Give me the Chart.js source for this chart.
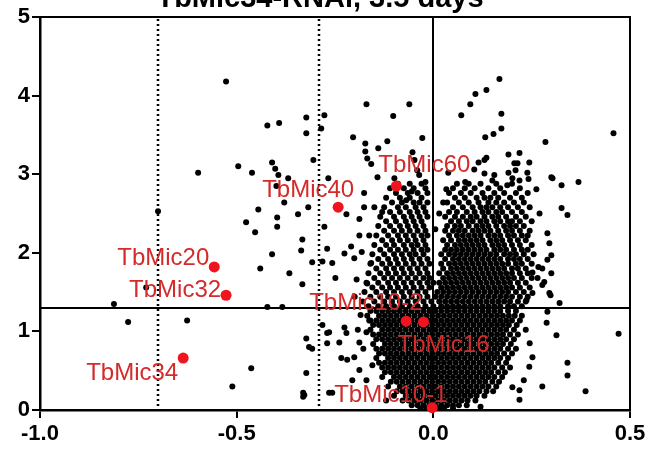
<!DOCTYPE html>
<html lang="en">
<head>
    <meta charset="UTF-8">
    <title>TbMic34-RNAi volcano plot</title>
    <script src="https://cdn.jsdelivr.net/npm/chart.js@4.4.1/dist/chart.umd.min.js"></script>
    <style>
        body { margin: 0; background: #fff; }
        #volcano { display: block; }
    </style>
</head>
<body>
    <canvas id="volcano" width="654" height="452"></canvas>

    <script>
        // ---- data (log2 fold change, -log10 p) ----
        const chartTitle = 'TbMic34-RNAi, 3.5 days';
        const xTicks = [-1.0, -0.5, 0.0, 0.5];
        const yTicks = [0, 1, 2, 3, 4, 5];
        const pCutoff = 1.3;           // horizontal line
        const fcCutoffs = [-0.7, -0.29]; // dotted lines

        // highlighted TbMic proteins
        const micNames = ['TbMic60', 'TbMic40', 'TbMic20', 'TbMic32', 'TbMic10-2', 'TbMic16', 'TbMic34', 'TbMic10-1'];
        const micFC = [-0.094, -0.242, -0.557, -0.527, -0.069, -0.025, -0.636, -0.003];
        const micP = [2.85, 2.58, 1.82, 1.46, 1.13, 1.12, 0.66, 0.03];

        // scattered proteins outside the main cloud
        const otherGenes = [
            [-0.527,4.18],[-0.598,3.02],[-0.496,3.10],[-0.461,3.02],[-0.422,3.62],[-0.392,3.65],[-0.323,3.72],[-0.323,3.52],
            [-0.277,3.75],[-0.285,3.58],[-0.305,3.18],[-0.410,3.15],[-0.402,3.07],[-0.394,2.99],[-0.369,2.95],[-0.399,2.85],
            [-0.379,2.64],[-0.445,2.55],[-0.344,2.49],[-0.318,2.58],[-0.476,2.39],[-0.453,2.26],[-0.397,2.45],[-0.397,2.33],
            [-0.333,2.17],[-0.336,2.03],[-0.410,1.98],[-0.440,1.80],[-0.366,1.74],[-0.308,1.88],[-0.333,1.60],[-0.277,2.33],
            [-0.270,2.05],[-0.700,2.53],[-0.730,1.56],[-0.812,1.35],[-0.776,1.12],[-0.626,1.14],[-0.422,1.31],[-0.384,1.31],
            [-0.323,0.91],[-0.316,0.80],[-0.308,0.78],[-0.323,0.47],[-0.463,0.53],[-0.511,0.30],[-0.331,0.22],[-0.331,0.17],
            [-0.270,0.98],[-0.270,0.85],[-0.282,1.08],[-0.265,0.22],
            [-0.170,3.89],[-0.061,3.89],[-0.102,3.74],[-0.204,3.47],[-0.117,3.42],[-0.028,3.46],[-0.173,3.39],[-0.173,3.29],
            [-0.168,3.20],[-0.158,3.13],[-0.142,2.96],[-0.267,2.95],[-0.140,3.33],[-0.053,3.28],[-0.048,3.18],[-0.041,3.05],
            [-0.036,2.99],[-0.099,2.95],[-0.069,2.67],[-0.221,2.49],[-0.176,2.76],[-0.176,2.58],[-0.150,2.58],[-0.188,2.43],
            [-0.209,2.08],[-0.226,1.99],[-0.257,1.87],[-0.201,1.93],[-0.188,2.22],[-0.163,2.22],[-0.158,1.87],[-0.168,1.61],
            [-0.249,1.68],[-0.282,1.89],
            [-0.257,0.22],[-0.234,0.66],[-0.219,0.64],[-0.201,0.67],[-0.265,0.99],[-0.226,1.05],[-0.221,0.98],[-0.239,0.86],
            [-0.188,0.86],[-0.170,0.99],[-0.163,1.14],[-0.155,0.57],[-0.188,0.51],[-0.206,0.38],[-0.170,0.38],[-0.328,0.19],
            [0.071,3.75],[0.094,3.89],[0.107,4.02],[0.135,4.07],[0.168,4.21],[0.173,3.77],[0.173,3.58],[0.153,3.51],
            [0.132,3.47],[0.458,3.52],[0.285,3.41],[0.191,3.25],[0.219,3.27],[0.206,3.14],[0.244,3.15],[0.300,2.96],
            [0.326,2.86],[0.369,2.90],[0.326,2.57],[0.341,2.48],[0.262,2.81],[0.135,3.21],[0.115,3.15],[0.104,3.06],
            [0.081,2.90],[0.033,2.81],[0.038,3.02],[0.025,2.64],[0.015,2.50],[0.130,3.18],[0.214,3.14],[0.209,3.05],
            [0.239,3.02],[0.191,3.02],[0.155,2.99],[0.130,3.01],[0.150,2.92],[0.201,2.95],[0.219,2.92],[0.242,2.94],
            [0.303,2.95],[0.188,2.86],
            [0.270,2.50],[0.290,2.25],[0.295,2.12],[0.300,1.97],[0.290,1.91],[0.267,1.82],[0.300,1.74],[0.282,1.63],
            [0.295,1.49],[0.252,1.75],[0.277,1.80],[0.265,1.68],[0.277,1.59],[0.298,1.46],[0.321,1.36],[0.252,1.49],
            [0.237,1.40],
            [0.471,0.97],[0.341,0.60],[0.341,0.44],[0.387,0.24],[0.277,0.30],[0.313,0.95],[0.288,1.11],[0.290,1.25],
            [0.219,0.25],[0.219,0.13],[0.252,0.67],[0.244,0.55],[0.201,0.29],
            [-0.185,1.21],[-0.192,1.02],[-0.178,0.78],[-0.2,1.44],[-0.195,1.66],[-0.182,2.01],[-0.13,2.52],[-0.055,2.78],
            [-0.02,2.9],[0.005,2.3],[0.0,1.62],[0.245,0.85],[0.235,1.02],[0.23,0.38],[-0.12,0.12],[0.12,0.04]
        ];

        // upper cloud, read row by row: [-log10 p, [fold changes]]
        const upperRows = [
            [2.88, [-0.09,-0.06,-0.03, 0.06,0.09,0.12,0.16,0.2]],
            [2.82, [-0.11,-0.075,-0.05,-0.02, 0.05,0.08,0.105,0.14,0.17,0.22]],
            [2.76, [-0.095,-0.065,-0.04,-0.015, 0.04,0.07,0.095,0.125,0.155,0.18,0.21,0.24]],
            [2.70, [-0.12,-0.085,-0.06,-0.03, 0.055,0.08,0.11,0.13,0.145,0.165,0.195,0.225]],
            [2.64, [-0.105,-0.08,-0.05,-0.035,-0.015, 0.035,0.065,0.09,0.115,0.14,0.16,0.18,0.205,0.23]],
            [2.58, [-0.125,-0.09,-0.07,-0.045,-0.025, 0.05,0.075,0.1,0.12,0.135,0.15,0.17,0.19,0.215,0.245]],
            [2.52, [-0.11,-0.085,-0.06,-0.04,-0.02, 0.04,0.06,0.085,0.105,0.125,0.14,0.16,0.175,0.2,0.225]],
            [2.46, [-0.135,-0.1,-0.075,-0.055,-0.035,-0.015, 0.03,0.055,0.075,0.095,0.11,0.13,0.15,0.165,0.185,0.21,0.235]],
            [2.40, [-0.12,-0.095,-0.07,-0.05,-0.03, 0.045,0.065,0.085,0.1,0.12,0.135,0.155,0.17,0.19,0.2,0.22,0.25]],
            [2.34, [-0.14,-0.11,-0.085,-0.065,-0.045,-0.025, 0.035,0.055,0.07,0.09,0.11,0.125,0.14,0.16,0.18,0.195,0.21,0.23]],
            [2.28, [-0.125,-0.1,-0.08,-0.06,-0.04,-0.02, 0.03,0.05,0.065,0.08,0.1,0.115,0.13,0.145,0.165,0.185,0.2,0.22,0.245]],
            [2.22, [-0.145,-0.115,-0.09,-0.07,-0.05,-0.03,-0.015, 0.04,0.06,0.075,0.09,0.105,0.12,0.14,0.155,0.17,0.19,0.205,0.225,0.24]],
            [2.16, [-0.13,-0.105,-0.085,-0.065,-0.045,-0.025, 0.025,0.045,0.065,0.08,0.095,0.11,0.125,0.145,0.16,0.175,0.195,0.215,0.235]],
            [2.10, [-0.15,-0.12,-0.1,-0.075,-0.055,-0.04,-0.02, 0.035,0.055,0.07,0.085,0.1,0.115,0.13,0.15,0.165,0.18,0.2,0.22,0.25]],
            [2.04, [-0.135,-0.11,-0.09,-0.07,-0.05,-0.03,-0.015, 0.03,0.045,0.06,0.075,0.09,0.105,0.12,0.135,0.155,0.17,0.185,0.205,0.225,0.24]],
            [1.98, [-0.155,-0.125,-0.1,-0.08,-0.06,-0.045,-0.025, 0.02,0.04,0.055,0.07,0.085,0.1,0.115,0.13,0.145,0.16,0.18,0.195,0.21,0.23,0.255]],
            [1.92, [-0.14,-0.115,-0.095,-0.075,-0.055,-0.035,-0.015, 0.03,0.05,0.065,0.08,0.095,0.11,0.125,0.14,0.155,0.17,0.19,0.205,0.22,0.24]],
            [1.86, [-0.16,-0.13,-0.11,-0.09,-0.07,-0.05,-0.03,-0.01, 0.02,0.04,0.055,0.07,0.085,0.1,0.115,0.13,0.145,0.16,0.175,0.19,0.21,0.225,0.25]],
            [1.80, [-0.145,-0.12,-0.1,-0.08,-0.06,-0.04,-0.02, 0.025,0.045,0.06,0.075,0.09,0.105,0.12,0.135,0.15,0.165,0.18,0.2,0.215,0.235]],
            [1.74, [-0.165,-0.135,-0.115,-0.095,-0.075,-0.055,-0.035,-0.015, 0.015,0.035,0.05,0.065,0.08,0.095,0.11,0.125,0.14,0.155,0.17,0.185,0.2,0.22,0.24]],
            [1.68, [-0.15,-0.125,-0.105,-0.085,-0.065,-0.045,-0.025,-0.01, 0.025,0.04,0.055,0.07,0.085,0.1,0.115,0.13,0.145,0.16,0.175,0.19,0.205,0.225,0.25]],
            [1.62, [-0.17,-0.14,-0.115,-0.095,-0.075,-0.055,-0.035,-0.015, 0.015,0.03,0.045,0.06,0.075,0.09,0.105,0.12,0.135,0.15,0.165,0.18,0.195,0.215,0.235]],
            [1.56, [-0.155,-0.13,-0.11,-0.09,-0.07,-0.05,-0.03,-0.01, 0.02,0.035,0.05,0.065,0.08,0.095,0.11,0.125,0.14,0.155,0.17,0.185,0.2,0.22,0.245]],
            [1.50, [-0.175,-0.145,-0.12,-0.1,-0.08,-0.06,-0.04,-0.02, 0.01,0.025,0.04,0.055,0.07,0.085,0.1,0.115,0.13,0.145,0.16,0.175,0.19,0.21,0.23]],
            [1.44, [-0.16,-0.135,-0.115,-0.095,-0.075,-0.055,-0.035,-0.015, 0.005,0.02,0.035,0.05,0.065,0.08,0.095,0.11,0.125,0.14,0.155,0.17,0.185,0.2,0.22,0.24]],
            [1.38, [-0.18,-0.15,-0.125,-0.105,-0.085,-0.065,-0.045,-0.025,-0.005, 0.015,0.03,0.045,0.06,0.075,0.09,0.105,0.12,0.135,0.15,0.165,0.18,0.195,0.215,0.235]],
            [1.32, [-0.165,-0.14,-0.12,-0.1,-0.08,-0.06,-0.04,-0.02, 0.0,0.02,0.035,0.05,0.065,0.08,0.095,0.11,0.125,0.14,0.155,0.17,0.19,0.205,0.225]]
        ];

        // lower cloud (non-significant), read row by row
        const lowerRows = [
            [1.26, [-0.16,-0.145,-0.13,-0.115,-0.1,-0.085,-0.07,-0.055,-0.04,-0.025,-0.01,0.005,0.02,0.035,0.05,0.065,0.08,0.095,0.11,0.125,0.14,0.155,0.17,0.19,0.21]],
            [1.20, [-0.168,-0.138,-0.123,-0.108,-0.093,-0.078,-0.063,-0.048,-0.033,-0.018,-0.003,0.012,0.027,0.042,0.057,0.072,0.087,0.102,0.117,0.132,0.147,0.162,0.177,0.192,0.207,0.225]],
            [1.14, [-0.16,-0.145,-0.13,-0.115,-0.1,-0.085,-0.07,-0.055,-0.04,-0.025,-0.01,0.005,0.02,0.035,0.05,0.065,0.08,0.095,0.11,0.125,0.14,0.155,0.17,0.185,0.2,0.22]],
            [1.08, [-0.153,-0.138,-0.123,-0.108,-0.093,-0.078,-0.063,-0.048,-0.033,-0.018,-0.003,0.012,0.027,0.042,0.057,0.072,0.087,0.102,0.117,0.132,0.147,0.162,0.177,0.192,0.212]],
            [1.02, [-0.16,-0.13,-0.115,-0.1,-0.085,-0.07,-0.055,-0.04,-0.025,-0.01,0.005,0.02,0.035,0.05,0.065,0.08,0.095,0.11,0.125,0.14,0.155,0.17,0.185,0.205]],
            [0.96, [-0.153,-0.138,-0.123,-0.108,-0.093,-0.078,-0.063,-0.048,-0.033,-0.018,-0.003,0.012,0.027,0.042,0.057,0.072,0.087,0.102,0.117,0.132,0.147,0.162,0.177,0.195,0.215]],
            [0.90, [-0.145,-0.13,-0.115,-0.1,-0.085,-0.07,-0.055,-0.04,-0.025,-0.01,0.005,0.02,0.035,0.05,0.065,0.08,0.095,0.11,0.125,0.14,0.155,0.17,0.185,0.205]],
            [0.84, [-0.153,-0.123,-0.108,-0.093,-0.078,-0.063,-0.048,-0.033,-0.018,-0.003,0.012,0.027,0.042,0.057,0.072,0.087,0.102,0.117,0.132,0.147,0.162,0.177,0.197]],
            [0.78, [-0.145,-0.13,-0.115,-0.1,-0.085,-0.07,-0.055,-0.04,-0.025,-0.01,0.005,0.02,0.035,0.05,0.065,0.08,0.095,0.11,0.125,0.14,0.155,0.17,0.19,0.21]],
            [0.72, [-0.138,-0.123,-0.108,-0.093,-0.078,-0.063,-0.048,-0.033,-0.018,-0.003,0.012,0.027,0.042,0.057,0.072,0.087,0.102,0.117,0.132,0.147,0.162,0.18,0.2]],
            [0.66, [-0.145,-0.115,-0.1,-0.085,-0.07,-0.055,-0.04,-0.025,-0.01,0.005,0.02,0.035,0.05,0.065,0.08,0.095,0.11,0.125,0.14,0.155,0.17,0.19]],
            [0.60, [-0.138,-0.123,-0.108,-0.093,-0.078,-0.063,-0.048,-0.033,-0.018,-0.003,0.012,0.027,0.042,0.057,0.072,0.087,0.102,0.117,0.132,0.147,0.165,0.185]],
            [0.54, [-0.13,-0.115,-0.1,-0.085,-0.07,-0.055,-0.04,-0.025,-0.01,0.005,0.02,0.035,0.05,0.065,0.08,0.095,0.11,0.125,0.14,0.155,0.175,0.195]],
            [0.48, [-0.123,-0.108,-0.093,-0.078,-0.063,-0.048,-0.033,-0.018,-0.003,0.012,0.027,0.042,0.057,0.072,0.087,0.102,0.117,0.132,0.147,0.165,0.182]],
            [0.42, [-0.13,-0.1,-0.085,-0.07,-0.055,-0.04,-0.025,-0.01,0.005,0.02,0.035,0.05,0.065,0.08,0.095,0.11,0.125,0.14,0.155,0.175]],
            [0.36, [-0.108,-0.093,-0.078,-0.063,-0.048,-0.033,-0.018,-0.003,0.012,0.027,0.042,0.057,0.072,0.087,0.102,0.117,0.132,0.15,0.167]],
            [0.30, [-0.115,-0.085,-0.07,-0.055,-0.04,-0.025,-0.01,0.005,0.02,0.035,0.05,0.065,0.08,0.095,0.11,0.125,0.14,0.16]],
            [0.24, [-0.093,-0.078,-0.063,-0.048,-0.033,-0.018,-0.003,0.012,0.027,0.042,0.057,0.072,0.087,0.102,0.117,0.135,0.152]],
            [0.18, [-0.1,-0.07,-0.055,-0.04,-0.025,-0.01,0.005,0.02,0.035,0.05,0.065,0.08,0.095,0.11,0.13]],
            [0.12, [-0.078,-0.063,-0.048,-0.033,-0.018,-0.003,0.012,0.027,0.042,0.057,0.072,0.087,0.107]],
            [0.06, [-0.055,-0.04,-0.025,-0.01,0.005,0.02,0.035,0.05,0.065,0.085]],
            [0.02, [-0.033,-0.018,-0.003,0.012,0.027,0.05]]
        ];

        // ---- build datasets ----
        const rowsToPoints = rows => rows.flatMap(([p, fcs]) => fcs.map(fc => ({ x: fc, y: p })));
        const cloudPoints = otherGenes.map(([fc, p]) => ({ x: fc, y: p }))
            .concat(rowsToPoints(upperRows), rowsToPoints(lowerRows));
        const micPoints = micNames.map((name, i) => ({ x: micFC[i], y: micP[i], name: name }));

        // where each red label sits relative to its dot (px: left edge, baseline)
        const labelOffset = {
            'TbMic60': [-18, -14], 'TbMic40': [-76, -10], 'TbMic20': [-97, -2], 'TbMic32': [-97, 2],
            'TbMic10-2': [-97, -11], 'TbMic16': [-26, 30], 'TbMic34': [-97, 22], 'TbMic10-1': [-98, -6]
        };

        const fontFamily = '"Liberation Sans", Arial, sans-serif';

        const volcanoDecor = {
            id: 'volcanoDecor',
            beforeDatasetsDraw(chart) {
                const { ctx, chartArea: a, scales: { x, y } } = chart;
                ctx.save();
                ctx.strokeStyle = '#000';
                ctx.lineWidth = 2;
                // significance line
                const yp = Math.round(y.getPixelForValue(pCutoff));
                ctx.beginPath();
                ctx.moveTo(a.left, yp);
                ctx.lineTo(a.right, yp);
                ctx.stroke();
                // zero fold change
                const x0 = Math.round(x.getPixelForValue(0));
                ctx.beginPath();
                ctx.moveTo(x0, a.top);
                ctx.lineTo(x0, a.bottom);
                ctx.stroke();
                // dotted fold change cut-offs
                ctx.setLineDash([2, 3]);
                ctx.lineWidth = 2.5;
                fcCutoffs.forEach(fc => {
                    const xp = Math.round(x.getPixelForValue(fc));
                    ctx.beginPath();
                    ctx.moveTo(xp, a.top + 2);
                    ctx.lineTo(xp, a.bottom);
                    ctx.stroke();
                });
                ctx.restore();
            },
            afterDraw(chart) {
                const { ctx, chartArea: a, scales: { x, y } } = chart;
                ctx.save();
                // top and right frame
                ctx.strokeStyle = '#000';
                ctx.lineWidth = 2;
                ctx.beginPath();
                ctx.moveTo(a.left, a.top);
                ctx.lineTo(a.right, a.top);
                ctx.lineTo(a.right, a.bottom);
                ctx.stroke();

                // title (cut off by the top edge in the original)
                ctx.fillStyle = '#000';
                ctx.font = 'bold 29px ' + fontFamily;
                ctx.textAlign = 'center';
                ctx.textBaseline = 'alphabetic';
                ctx.fillText(chartTitle, 320, 7);

                // labels for TbMic points
                ctx.fillStyle = '#d42a2a';
                ctx.font = '24px ' + fontFamily;
                ctx.textAlign = 'left';
                micPoints.forEach(pt => {
                    const off = labelOffset[pt.name] || [6, -6];
                    ctx.fillText(pt.name, x.getPixelForValue(pt.x) + off[0], y.getPixelForValue(pt.y) + off[1]);
                });
                ctx.restore();
            }
        };

        const ctx = document.getElementById('volcano').getContext('2d');
        new Chart(ctx, {
            type: 'scatter',
            data: {
                datasets: [
                    {
                        label: 'TbMic',
                        data: micPoints,
                        backgroundColor: '#f0141e',
                        borderWidth: 0,
                        pointRadius: 5.5,
                        order: 0,
                        clip: false
                    },
                    {
                        label: 'all proteins',
                        data: cloudPoints,
                        backgroundColor: '#000',
                        borderWidth: 0,
                        pointRadius: 3,
                        order: 1
                    }
                ]
            },
            options: {
                responsive: false,
                animation: false,
                devicePixelRatio: 1,
                layout: { padding: { top: 17, right: 24, left: 0, bottom: 0 } },
                plugins: {
                    legend: { display: false },
                    tooltip: { enabled: false }
                },
                scales: {
                    x: {
                        type: 'linear',
                        min: -1,
                        max: 0.5,
                        afterBuildTicks: s => { s.ticks = xTicks.map(v => ({ value: v })); },
                        afterFit: s => { s.height = 42; },
                        ticks: {
                            color: '#000',
                            padding: 3,
                            font: { family: fontFamily, size: 22, weight: 'bold' },
                            callback: v => v.toFixed(1)
                        },
                        grid: { drawOnChartArea: false, drawTicks: true, tickLength: 8, color: '#000', lineWidth: 2 },
                        border: { display: true, color: '#000', width: 2.5 }
                    },
                    y: {
                        type: 'linear',
                        min: 0,
                        max: 5,
                        afterBuildTicks: s => { s.ticks = yTicks.map(v => ({ value: v })); },
                        afterFit: s => { s.width = 40; },
                        ticks: {
                            color: '#000',
                            padding: 2,
                            font: { family: fontFamily, size: 22, weight: 'bold' },
                            callback: v => String(v)
                        },
                        grid: { drawOnChartArea: false, drawTicks: true, tickLength: 8, color: '#000', lineWidth: 2 },
                        border: { display: true, color: '#000', width: 2.5 }
                    }
                }
            },
            plugins: [volcanoDecor]
        });
    </script>
</body>
</html>
